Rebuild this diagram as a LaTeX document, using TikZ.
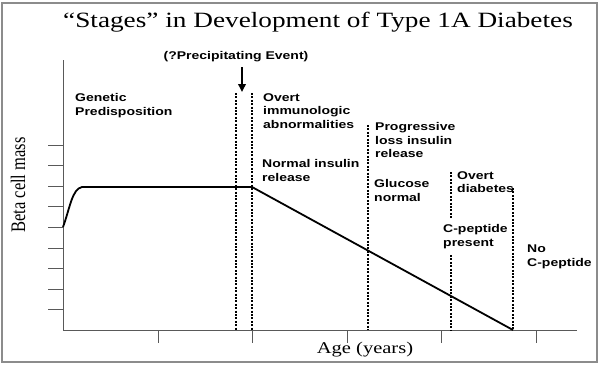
\documentclass[tikz,border=0pt]{standalone}
\usepackage{fontspec}
\setmainfont{Liberation Serif}[FakeStretch = 1.25]
\setsansfont{Liberation Sans}[FakeStretch = 1.25]
\newfontfamily\upright{Liberation Serif}
\usetikzlibrary{arrows.meta}

\begin{document}
\begin{tikzpicture}[x = 1pt, y = -1pt, > = {Triangle[length = 8pt, width = 7.5pt]},
	font = \sffamily\bfseries\fontsize{11.2}{13.7}\selectfont,
	stage/.style = {anchor = north west, align = left, inner sep = 0pt},
	phase/.style = {line width = 1.3pt, dash pattern = on 2pt off 1.4pt},
	axis/.style = {draw = black!65, line width = 0.9pt}]

	% Definition
	
	\def\Ybase{330}		% Level of the age axis
	\def\Yplat{187}		% Level of the plateau
	
	\useasboundingbox (0, 0) rectangle (600, 368);
	\draw [black!45, line width = 1.2pt] (2, 3) rectangle (597, 362);
	
	% Title
	
	\node (title) at (318, 22) {\rmfamily\mdseries\fontsize{21.8}{26}\selectfont ``Stages'' in Development of Type 1A Diabetes};
	
	% Axes with ticks
	
	\coordinate (origin) at (63, \Ybase);
	\coordinate (ytop) at (63, 60);
	\coordinate (xend) at (577, \Ybase);
	\draw [axis] (ytop) -- (origin) -- (xend);
	\foreach \k in {0, ..., 8}
		\draw [axis] (48, 145 + 20.6 * \k) -- (63, 145 + 20.6 * \k);
	\foreach \k in {0, ..., 4}
		\draw [axis] (158 + 94.5 * \k, \Ybase) -- (158 + 94.5 * \k, 343);
	
	\node (age) at (365, 350) {\rmfamily\mdseries\fontsize{16.4}{18}\selectfont Age (years)};
	\node (beta) [rotate = 90] at (18, 185) {\scalebox{1}[1.25]{\upright\mdseries\fontsize{16.5}{18}\selectfont Beta cell mass}};
	
	% Beta cell mass curve
	
	\draw [line width = 1.8pt, line join = round] (63, 227) .. controls (70, 208) and (72, 189) .. (82, \Yplat) -- (252, \Yplat) -- (513, \Ybase);
	
	% Stage boundaries
	
	\draw [phase] (236, 93) -- (236, \Ybase);
	\draw [phase] (252, 93) -- (252, \Ybase);
	\draw [phase] (368, 125) -- (368, \Ybase);
	\draw [phase] (451, 172) -- (451, 218);
	\draw [phase] (451, 255) -- (451, \Ybase);
	\draw [phase] (513, 188) -- (513, \Ybase);
	
	% Precipitating event with arrow
	
	\node (evt) at (236, 57) {(?Precipitating Event)};
	\coordinate (evt top) at (242, 67);
	\coordinate (evt tip) at (242, 92);
	\draw [->, line width = 1.8pt] (evt top) -- (evt tip);
	
	% Stage labels
	
	\node (genetic) [stage] at (75, 93) {Genetic\\Predisposition};
	\node (immuno) [stage] at (263, 93) {Overt\\immunologic\\abnormalities};
	\node (progress) [stage] at (375, 122) {Progressive\\loss insulin\\release};
	\node (normal) [stage] at (262, 159) {Normal insulin\\release};
	\node (glucose) [stage] at (374, 179) {Glucose\\normal};
	\node (overt) [stage] at (457, 171) {Overt\\diabetes};
	\node (cpep) [stage] at (443, 224) {C-peptide\\present};
	\node (nocpep) [stage] at (527, 245) {No\\C-peptide};

\end{tikzpicture}
\end{document}
